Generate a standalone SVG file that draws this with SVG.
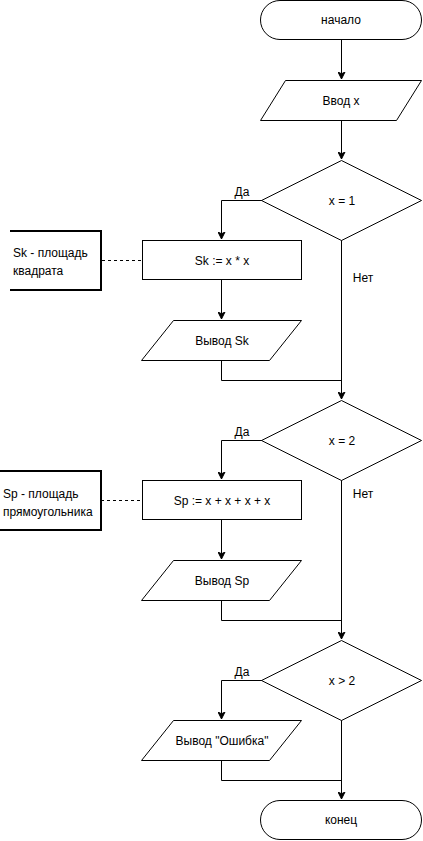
<svg xmlns="http://www.w3.org/2000/svg" width="423" height="841" viewBox="0 0 423 841">
<style>
.s{fill:#fff;stroke:#000;stroke-width:1}
.t{font-family:"Liberation Sans",Arial,sans-serif;font-size:12px;fill:#000}
.c{text-anchor:middle}
.l{fill:none;stroke:#000;stroke-width:1}
.d{fill:none;stroke:#000;stroke-width:1;stroke-dasharray:3,3}
.a{fill:none;stroke:#000;stroke-width:2}
</style>
<defs>
<marker id="ar" markerWidth="8" markerHeight="8" refX="7" refY="4" orient="auto" markerUnits="userSpaceOnUse">
<path d="M0,0.5 L7,4 L0,7.5 L1.8,4 Z" fill="#000" stroke="#000" stroke-width="1"/>
</marker>
</defs>
<rect width="423" height="841" fill="#fff"/>
<g id="connectors">
<path class="l" d="M341.5,40 V79" marker-end="url(#ar)"/>
<path class="l" d="M341.5,120 V159" marker-end="url(#ar)"/>
<path class="l" d="M262,200.5 H221.5 V239" marker-end="url(#ar)"/>
<path class="l" d="M221.5,280 V319" marker-end="url(#ar)"/>
<path class="l" d="M221.5,360 V380.5 H341.5"/>
<path class="l" d="M341.5,240 V399" marker-end="url(#ar)"/>
<path class="d" d="M102,260.5 H142"/>
<path class="l" d="M262,440.5 H221.5 V479" marker-end="url(#ar)"/>
<path class="l" d="M221.5,520 V559" marker-end="url(#ar)"/>
<path class="l" d="M221.5,600 V620.5 H341.5"/>
<path class="l" d="M341.5,480 V639" marker-end="url(#ar)"/>
<path class="d" d="M101,500.5 H142"/>
<path class="l" d="M262,680.5 H221.5 V719" marker-end="url(#ar)"/>
<path class="l" d="M221.5,760 V780.5 H341.5"/>
<path class="l" d="M341.5,720 V799" marker-end="url(#ar)"/>
<text class="t c" x="242" y="196">Да</text>
<text class="t c" x="363" y="282">Нет</text>
<text class="t c" x="242" y="436">Да</text>
<text class="t c" x="363" y="498">Нет</text>
<text class="t c" x="242" y="676">Да</text>
</g>
<g id="start">
<rect class="s" x="260.5" y="0.5" width="161" height="39" rx="19.5"/>
<text class="t c" x="341" y="24">начало</text>
</g>
<g id="input">
<polygon class="s" points="285.5,80.5 421.5,80.5 396.5,120.5 260.5,120.5"/>
<text class="t c" x="341" y="105">Ввод x</text>
</g>
<g id="dec1">
<polygon class="s" points="341.5,160.5 421.5,200.5 341.5,240.5 261.5,200.5"/>
<text class="t c" x="342" y="205">x = 1</text>
</g>
<g id="note1">
<path class="a" d="M10,231 H101 V290 H10"/>
<text class="t" x="13" y="257">Sk - площадь</text>
<text class="t" x="13" y="275">квадрата</text>
</g>
<g id="sk">
<rect class="s" x="142.5" y="240.5" width="159" height="39"/>
<text class="t c" x="222" y="265">Sk := x * x</text>
</g>
<g id="outSk">
<polygon class="s" points="173.5,320.5 301.5,320.5 269.5,360.5 141.5,360.5"/>
<text class="t c" x="222" y="345">Вывод Sk</text>
</g>
<g id="dec2">
<polygon class="s" points="341.5,400.5 421.5,440.5 341.5,480.5 261.5,440.5"/>
<text class="t c" x="342" y="445">x = 2</text>
</g>
<g id="note2">
<path class="a" d="M0,471 H101 V530 H0"/>
<text class="t" x="3" y="498">Sp - площадь</text>
<text class="t" x="3" y="516">прямоугольника</text>
</g>
<g id="sp">
<rect class="s" x="142.5" y="480.5" width="159" height="39"/>
<text class="t c" x="222" y="505">Sp := x + x + x + x</text>
</g>
<g id="outSp">
<polygon class="s" points="173.5,560.5 301.5,560.5 269.5,600.5 141.5,600.5"/>
<text class="t c" x="222" y="585">Вывод Sp</text>
</g>
<g id="dec3">
<polygon class="s" points="341.5,640.5 421.5,680.5 341.5,720.5 261.5,680.5"/>
<text class="t c" x="342" y="685">x &gt; 2</text>
</g>
<g id="outErr">
<polygon class="s" points="173.5,720.5 301.5,720.5 269.5,760.5 141.5,760.5"/>
<text class="t c" x="222" y="745">Вывод "Ошибка"</text>
</g>
<g id="end">
<rect class="s" x="260.5" y="800.5" width="161" height="39" rx="19.5"/>
<text class="t c" x="341" y="824">конец</text>
</g>
</svg>
